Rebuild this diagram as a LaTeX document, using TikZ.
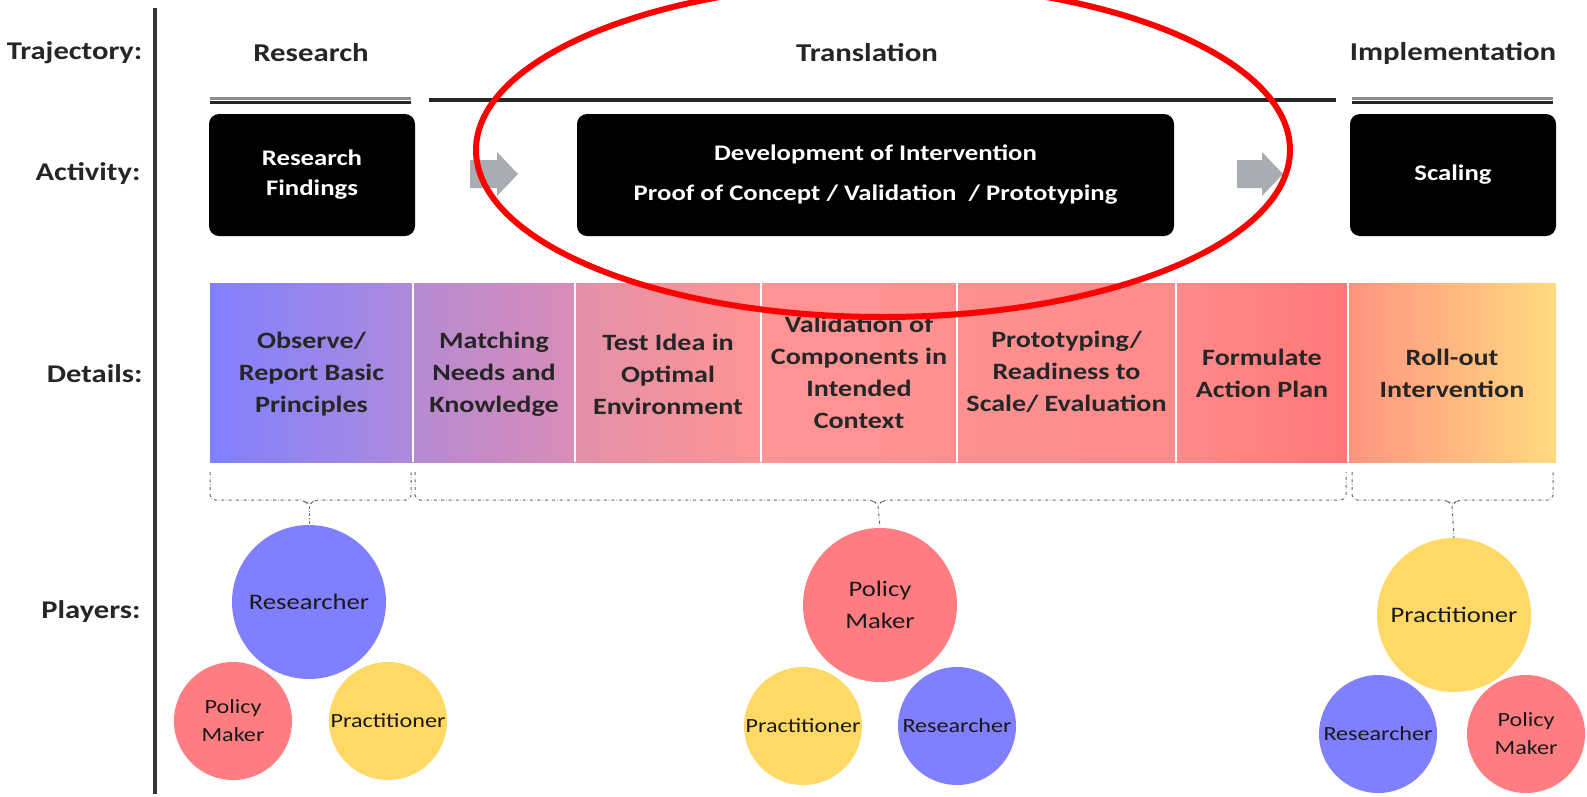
\documentclass[tikz,border=0pt]{standalone}
\usepackage{fontspec}
\setmainfont{Carlito}[FakeStretch=1.2]
\usetikzlibrary{positioning}

\definecolor{resblue}{HTML}{8080FF}
\definecolor{polred}{HTML}{FF7C80}
\definecolor{pracyellow}{HTML}{FFD966}
\definecolor{arrowgray}{HTML}{A9ACB2}
\definecolor{sA}{HTML}{AE8ADC}
\definecolor{sB}{HTML}{B68AD2}
\definecolor{sC}{HTML}{D88CB8}
\definecolor{sD}{HTML}{E290A8}
\definecolor{sE}{HTML}{FF9494}
\definecolor{sF}{HTML}{FF9090}
\definecolor{sG}{HTML}{FF8A8A}
\definecolor{sH}{HTML}{FF7878}
\definecolor{sI}{HTML}{FF9480}
\definecolor{sJ}{HTML}{FFDA80}

\pgfdeclarehorizontalshading{detailshade}{100bp}{color(0bp)=(resblue); color(25bp)=(resblue);
  color(32.5bp)=(sA); color(32.6bp)=(sB); color(38.5bp)=(sC); color(38.6bp)=(sD);
  color(45.45bp)=(sE); color(52.75bp)=(sF); color(60.9bp)=(sG); color(67.2bp)=(sH);
  color(67.3bp)=(sI); color(75bp)=(sJ); color(100bp)=(sJ)}

\begin{document}
\begin{tikzpicture}[x=1pt,y=-1pt,
  rowlabel/.style={anchor=east,font=\fontsize{25.5}{30}\selectfont\bfseries,text=black!85},
  trajlabel/.style={font=\fontsize{25.7}{30}\selectfont\bfseries,text=black!85},
  actbox/.style={fill=black,rounded corners=10pt,text=white,align=center,inner sep=0pt,
    minimum height=122pt,font=\fontsize{22.3}{30}\selectfont\bfseries},
  cell/.style={font=\fontsize{23.4}{32}\selectfont\bfseries,text=black!85,align=center},
  bigplayer/.style={circle,minimum size=154pt,inner sep=0pt,align=center,text=black!90,
    font=\fontsize{22.2}{32}\selectfont},
  player/.style={circle,minimum size=118pt,inner sep=0pt,align=center,text=black!90,
    font=\fontsize{20.1}{28}\selectfont},
  bracket/.style={draw=black!60,dash dot,line width=1pt},
]
  \useasboundingbox (0,0) rectangle (1587,796);
  \clip (0,0) rectangle (1587,796);

  % row labels and the divider
  \node[rowlabel] (lbltraj) at (146,53) {Trajectory:};
  \node[rowlabel] (lblact) at (144,174) {Activity:};
  \node[rowlabel] (lbldet) at (146,374) {Details:};
  \node[rowlabel] (lblplay) at (144,612) {Players:};
  \draw[black!80, line width=3.5pt] (155,8) -- (155,794);

  % trajectory
  \node[trajlabel] (trajres) at (311,53) {Research};
  \node[trajlabel] (trajtrans) at (867,53) {Translation};
  \node[trajlabel] (trajimpl) at (1453,53) {Implementation};
  \draw[black!45, line width=3pt] (210,98) -- (411,98);
  \draw[black!85, line width=3pt] (210,102) -- (411,102);
  \draw[black!85, line width=4pt] (429,100) -- (1336,100);
  \draw[black!45, line width=3pt] (1352,98) -- (1553,98);
  \draw[black!85, line width=3pt] (1352,102) -- (1553,102);

  % activity
  \node[actbox, minimum width=206pt] (actres) at (312,175) {Research\\Findings};
  \node[actbox, minimum width=597pt, font=\fontsize{22.3}{40}\selectfont\bfseries] (actdev) at (875.5,175)
    {Development of Intervention\\Proof of Concept / Validation~ / Prototyping};
  \node[actbox, minimum width=206pt] (actscale) at (1453,175) {Scaling};
  \fill[arrowgray] (470,160) -- (497,160) -- (497,152) -- (518,174) -- (497,196) -- (497,188) -- (470,188) -- cycle;
  \fill[arrowgray] (1237,160) -- (1262,160) -- (1262,152) -- (1283,174) -- (1262,196) -- (1262,188) -- (1237,188) -- cycle;

  % details
  \shade[shading=detailshade] (210,283) rectangle (1556,462);
  \draw[white, line width=1.5pt] (413,283) -- (413,462);
  \draw[white, line width=1.5pt] (575,283) -- (575,462);
  \draw[white, line width=1.5pt] (761,283) -- (761,462);
  \draw[white, line width=1.5pt] (957,283) -- (957,462);
  \draw[white, line width=1.5pt] (1176,283) -- (1176,462);
  \draw[white, line width=1.5pt] (1348,283) -- (1348,462);
  \node[cell] (d1) at (311.5,374) {Observe/\\Report Basic\\Principles};
  \node[cell] (d2) at (494,374) {Matching\\Needs and\\Knowledge};
  \node[cell] (d3) at (668,374) {Test Idea in\\Optimal\\Environment};
  \node[cell] (d4) at (859,372) {Validation of\\Components in\\Intended\\Context};
  \node[cell] (d5) at (1066.5,372) {Prototyping/\\Readiness to\\Scale/ Evaluation};
  \node[cell] (d6) at (1262,373) {Formulate\\Action Plan};
  \node[cell] (d7) at (1452,373) {Roll-out\\Intervention};

  % brackets
  \draw[bracket, rounded corners=5pt] (210,472) -- (210,500) -- (304,500) -- (309,506) -- (314,500) -- (411,500) -- (411,472);
  \draw[bracket, rounded corners=5pt] (415,472) -- (415,500) -- (873,500) -- (878,506) -- (883,500) -- (1346,500) -- (1346,472);
  \draw[bracket, rounded corners=5pt] (1352,472) -- (1352,500) -- (1447,500) -- (1452,506) -- (1457,500) -- (1553,500) -- (1553,472);
  \coordinate (tipres) at (309,506);
  \coordinate (tiptrans) at (878,506);
  \coordinate (tipimpl) at (1452,506);

  % players
  \node[bigplayer, fill=resblue] (resR) at (309,602) {Researcher};
  \node[player, fill=polred] (resP) at (233,721) {Policy\\Maker};
  \node[player, fill=pracyellow] (resY) at (388,721) {Practitioner};
  \node[bigplayer, fill=polred] (transP) at (880,605) {Policy\\Maker};
  \node[player, fill=pracyellow] (transY) at (803,726) {Practitioner};
  \node[player, fill=resblue] (transR) at (957,726) {Researcher};
  \node[bigplayer, fill=pracyellow] (implY) at (1454,615) {Practitioner};
  \node[player, fill=resblue] (implR) at (1378,734) {Researcher};
  \node[player, fill=polred] (implP) at (1526,734) {Policy\\Maker};
  \draw[bracket] (tipres) -- (resR.north);
  \draw[bracket] (tiptrans) -- (transP.north);
  \draw[bracket] (tipimpl) -- (implY.north);

  % highlight
  \draw[red, line width=6pt] (883,150) ellipse [x radius=407pt, y radius=167pt];
\end{tikzpicture}
\end{document}
